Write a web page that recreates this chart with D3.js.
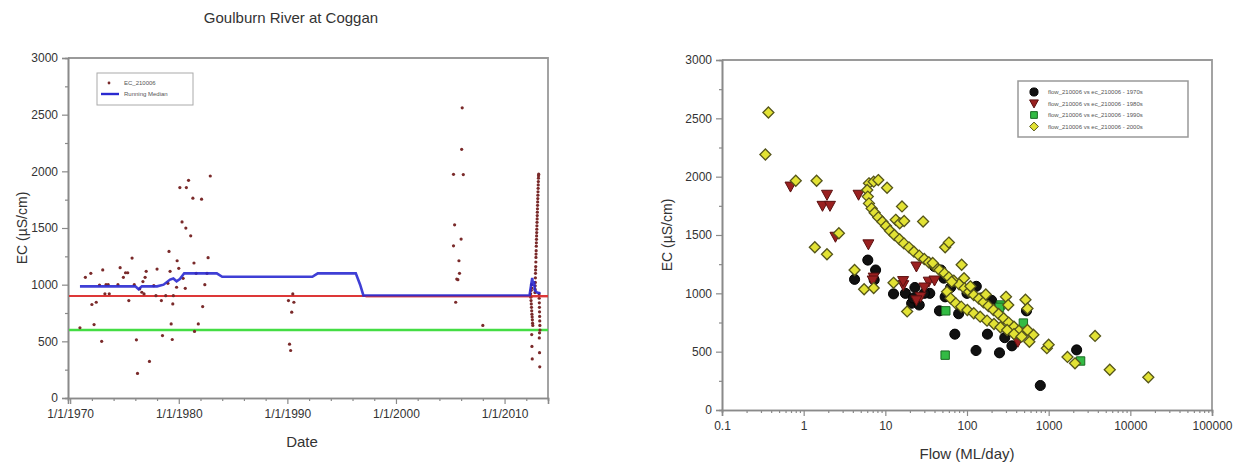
<!DOCTYPE html>
<html><head><meta charset="utf-8">
<script src="https://cdn.jsdelivr.net/npm/d3@7"></script>
<style>body{margin:0;background:#fff;} svg{display:block;font-family:"Liberation Sans",Arial,sans-serif;}</style>
</head><body><svg id="c" width="1243" height="465"></svg>
<script>
// ---------- Left chart data ----------
const chartTitle = "Goulburn River at Coggan";
const leftYTicks = [0, 500, 1000, 1500, 2000, 2500, 3000];
const leftXTicks = [1970, 1980, 1990, 2000, 2010];
const ecDates = [1970.9,1971.4,1971.9,1972.0,1972.2,1972.4,1972.7,1972.9,1973.0,1973.3,1973.5,1973.2,1973.6,1974.4,1974.6,1974.9,1975.1,1975.3,1975.4,1975.7,1975.9,1976.1,1976.2,1976.4,1976.6,1976.7,1976.9,1977.0,1976.8,1977.3,1977.7,1977.9,1978.0,1978.4,1978.5,1978.8,1979.1,1979.2,1979.3,1979.4,1979.45,1979.0,1979.5,1979.8,1979.85,1980.0,1980.1,1980.3,1980.4,1980.6,1980.65,1980.7,1980.9,1981.1,1981.3,1981.4,1981.45,1981.6,1981.8,1982.1,1982.2,1982.4,1982.6,1982.7,1982.9,
  1990.1,1990.2,1990.3,1990.4,1990.6,1990.5,
  2005.3,2006.1,2006.05,2006.2,2005.4,2005.3,2006.0,2005.8,2005.85,2005.6,2005.7,2005.5,2008.0];
const ecValues = [620,1065,1100,825,648,845,997,500,1130,1000,1000,920,920,1000,1150,1065,1105,1105,860,1235,1000,513,217,962,933,1027,1065,1118,918,323,991,903,1138,860,551,903,1293,1118,654,516,830,1012,903,977,1211,1144,1857,1554,1056,968,1499,1857,1921,1431,1763,1191,587,1100,654,1754,807,1000,1100,1238,1959,
  860,475,419,757,845,918,
  1974,2560,2194,1971,1528,1343,1402,1211,1100,1050,1044,845,640];
// 2012-2013 dense sampling
const ecRecentDates = [2012.80,2012.81,2012.82,2012.83,2012.84,2012.85,2012.86,2012.87,2012.88,2012.89,2012.90,2012.91,2012.92,2012.93,2012.94,2012.95,2012.96,2012.97,2012.98,2012.99,2013.00,2013.01,2013.02,2013.03,2013.04,2013.05,2013.06,2013.07,2013.08,2013.09,2013.10,2013.11,2013.12,2013.13,2013.14,
  2012.40,2012.42,2012.44,2012.46,2012.48,2012.50,2012.52,2012.54,2012.56,2012.58,2012.60,2012.50,2012.52,2012.55,2012.45,2012.48,2012.50,
  2013.18,2013.19,2013.20,2013.21,2013.22,2013.23,2013.24,2013.25,2013.26,2013.22,2013.20,2013.22,2013.24];
const ecRecentValues = [930,960,990,1020,1060,1100,1130,1160,1200,1240,1270,1300,1340,1370,1400,1430,1460,1490,1520,1550,1580,1610,1640,1670,1700,1730,1760,1790,1820,1850,1880,1910,1940,1960,1975,
  920,890,860,830,800,770,740,715,690,660,640,560,455,345,950,1000,970,
  920,880,840,800,760,720,680,640,600,575,530,400,275];
const medianDates = [1970.9,1976.0,1976.3,1976.6,1978.0,1978.6,1979.2,1979.5,1979.8,1980.1,1980.5,1983.5,1984.0,1992.3,1992.8,1996.3,1996.7,1997.0,2012.3,2012.45,2012.55,2012.62,2012.7,2012.8,2013.0,2013.3];
const medianValues = [985,985,960,985,985,1000,1045,1055,1030,1050,1100,1100,1070,1070,1100,1100,1000,905,905,1000,1060,990,1030,950,930,925];
const refLineRed = 900;
const refLineGreen = 600;
const leftLegend = ["EC_210006", "Running Median"];

// ---------- Right chart data ----------
const rightXTicks = [0.1, 1, 10, 100, 1000, 10000, 100000];
const rightYTicks = [0, 500, 1000, 1500, 2000, 2500, 3000];
const rightLegend = ["flow_210006 vs ec_210006 - 1970s","flow_210006 vs ec_210006 - 1980s","flow_210006 vs ec_210006 - 1990s","flow_210006 vs ec_210006 - 2000s"];
const flow1970s = [6.1,7.6,4.2,7.3,12.6,17.6,23,21,26,35,46,52,54,63,79,71,129,178,250,290,355,2200,790,115,130,48,535,150,200,100,40,22,30];
const ec1970s   = [1285,1200,1120,1115,995,1000,1050,915,900,1000,850,1130,970,1050,825,650,510,650,490,620,550,515,210,1045,1060,1200,850,960,940,1000,1230,960,1000];
const flow1980s = [0.69,1.93,1.7,2.1,2.45,4.7,6.2,7.2,7,16.6,16.5,24,27,34,40,420,24,30];
const ec1980s   = [1915,1845,1750,1750,1485,1845,1420,1135,1110,1070,1105,1230,970,1100,1110,585,940,1050];
const flow1990s = [54,55,260,490,2460,250];
const ec1990s   = [470,850,900,745,420,880];
const flow2000s = [0.37,0.34,0.8,1.44,1.37,1.93,2.7,4.2,5.5,7.2,10.5,16,13.4,29,54,60,86,92,12.6,18.5,300,320,520,550,650,580,950,1000,1700,2100,3700,5600,16600,420,
  6.3,7.2,8.2,6.0,6.1,6.3,6.8,7.4,8.2,9.2,10.2,11.4,12.9,14.9,16.9,19.5,22.4,26,30,34,40,46,53,60,69,80,93,106,121,140,159,183,211,244,281,324,376,433,
  57,63,73,85,101,121,145,176,214,257,310,376,467,550,15,17,38,65,110,170];
const ec2000s   = [2550,2190,1965,1965,1395,1335,1515,1200,1035,1045,1905,1745,1630,1615,1395,1435,1245,1130,1090,845,970,900,945,870,645,585,530,560,455,400,635,345,280,655,
  1943,1957,1971,1886,1829,1771,1728,1691,1651,1614,1577,1537,1500,1463,1428,1394,1357,1323,1294,1266,1234,1200,1171,1137,1108,1077,1043,1014,986,954,923,891,857,823,786,749,714,680,
  1014,957,914,886,857,829,800,766,737,709,686,651,629,686,1600,1620,1260,1100,1060,990];

const svg = d3.select("#c");
const axisColor = "#8a8a8a", textColor = "#333";

function styleAxis(g){
  g.selectAll(".domain").attr("stroke", axisColor).attr("stroke-width", 1.6);
  g.selectAll(".tick line").attr("stroke", axisColor).attr("stroke-width", 1.2);
  g.selectAll(".tick text").attr("fill", textColor).attr("font-size", 12).attr("font-family","Liberation Sans, Arial, sans-serif");
}

// ================= LEFT =================
const L = {x0: 68, x1: 548, y0: 58, y1: 398};
const lx = d3.scaleLinear().domain([1969.8, 2014.0]).range([L.x0, L.x1]);
const ly = d3.scaleLinear().domain([0, 3000]).range([L.y1, L.y0]);

svg.append("text").attr("x", 291).attr("y", 23).attr("text-anchor","middle")
  .attr("font-size", 15).attr("fill", textColor).text(chartTitle);

svg.append("path").attr("d", `M${L.x0},${L.y0}H${L.x1}V${L.y1}`).attr("fill","none").attr("stroke","#9a9a9a").attr("stroke-width",1.8);

svg.append("g").attr("transform",`translate(${L.x0},0)`)
  .call(d3.axisLeft(ly).tickValues(d3.range(250,3000,500)).tickSize(3).tickFormat("")).call(styleAxis);
svg.append("g").attr("transform",`translate(0,${L.y1})`)
  .call(d3.axisBottom(lx).tickValues(d3.range(1972,2014,2).filter(d=>d%10!==0)).tickSize(3).tickFormat("")).call(styleAxis);
svg.append("g").attr("transform",`translate(${L.x0},0)`)
  .call(d3.axisLeft(ly).tickValues(leftYTicks).tickSize(6).tickPadding(4).tickFormat(d3.format("d"))).call(styleAxis);
svg.append("g").attr("transform",`translate(0,${L.y1})`)
  .call(d3.axisBottom(lx).tickValues(leftXTicks).tickSize(6).tickPadding(5).tickFormat(d=>"1/1/"+d)).call(styleAxis);

svg.append("text").attr("transform",`translate(27,${(L.y0+L.y1)/2}) rotate(-90)`).attr("text-anchor","middle")
  .attr("font-size", 14).attr("fill", textColor).text("EC (\u00b5S/cm)");
svg.append("text").attr("x", (L.x0+L.x1)/2 - 6).attr("y", 447).attr("text-anchor","middle")
  .attr("font-size", 15).attr("fill", textColor).text("Date");

svg.append("line").attr("x1",L.x0+1).attr("x2",L.x1).attr("y1",ly(refLineGreen)).attr("y2",ly(refLineGreen))
  .attr("stroke","#44dd44").attr("stroke-width",2.4);
svg.append("line").attr("x1",L.x0+1).attr("x2",L.x1).attr("y1",ly(refLineRed)).attr("y2",ly(refLineRed))
  .attr("stroke","#dd3838").attr("stroke-width",2.2);

const ecAll = ecDates.map((d,i)=>({d, v: ecValues[i]})).concat(ecRecentDates.map((d,i)=>({d, v: ecRecentValues[i]})));
svg.append("g").selectAll("circle").data(ecAll).join("circle")
  .attr("cx", p=>lx(p.d)).attr("cy", p=>ly(p.v)).attr("r", 1.6)
  .attr("fill","#7a2a2a");

const med = medianDates.map((d,i)=>({d, v: medianValues[i]}));
svg.append("path").datum(med).attr("fill","none").attr("stroke","#2a2ad0").attr("stroke-width",2.6).attr("opacity",0.9)
  .attr("d", d3.line().x(p=>lx(p.d)).y(p=>ly(p.v)));
svg.append("line").attr("x1",lx(1997.2)).attr("x2",L.x1).attr("y1",ly(refLineRed)+1).attr("y2",ly(refLineRed)+1)
  .attr("stroke","#dd3838").attr("stroke-width",1).attr("opacity",0.8);

const lg = svg.append("g").attr("transform","translate(97,73)");
lg.append("rect").attr("width",96).attr("height",32).attr("fill","#fff").attr("stroke","#aaa").attr("stroke-width",1);
lg.append("circle").attr("cx",12).attr("cy",10).attr("r",1.4).attr("fill","#7a2a2a");
lg.append("line").attr("x1",4).attr("x2",22).attr("y1",21).attr("y2",21).attr("stroke","#2a2ad0").attr("stroke-width",2.4);
lg.selectAll("text").data(leftLegend).join("text").attr("x",27).attr("y",(d,i)=>12+i*11)
  .attr("font-size",6).attr("fill","#555").text(d=>d);

// ================= RIGHT =================
const R = {x0: 722, x1: 1212, y0: 60, y1: 410};
const rx = d3.scaleLog().domain([0.1, 100000]).range([R.x0, R.x1]);
const ry = d3.scaleLinear().domain([0, 3000]).range([R.y1, R.y0]);

svg.append("path").attr("d", `M${R.x0},${R.y0}H${R.x1}V${R.y1}`).attr("fill","none").attr("stroke","#9a9a9a").attr("stroke-width",1.8);

const minorLog = [];
for (let e = -1; e < 5; e++) for (let m = 2; m <= 9; m++) minorLog.push(m * Math.pow(10, e));
svg.append("g").attr("transform",`translate(0,${R.y1})`)
  .call(d3.axisBottom(rx).tickValues(minorLog).tickSize(3).tickFormat("")).call(styleAxis);
svg.append("g").attr("transform",`translate(${R.x0},0)`)
  .call(d3.axisLeft(ry).tickValues(d3.range(250,3000,500)).tickSize(3).tickFormat("")).call(styleAxis);
svg.append("g").attr("transform",`translate(${R.x0},0)`)
  .call(d3.axisLeft(ry).tickValues(rightYTicks).tickSize(6).tickPadding(4).tickFormat(d3.format("d"))).call(styleAxis);
svg.append("g").attr("transform",`translate(0,${R.y1})`)
  .call(d3.axisBottom(rx).tickValues(rightXTicks).tickSize(6).tickPadding(5).tickFormat(d=>String(d))).call(styleAxis);

svg.append("text").attr("transform",`translate(672,${(R.y0+R.y1)/2}) rotate(-90)`).attr("text-anchor","middle")
  .attr("font-size", 14).attr("fill", textColor).text("EC (\u00b5S/cm)");
svg.append("text").attr("x", (R.x0+R.x1)/2).attr("y", 459).attr("text-anchor","middle")
  .attr("font-size", 15).attr("fill", textColor).text("Flow (ML/day)");

function symPath(key, s){
  if (key === "c") return d3.symbol().type(d3.symbolCircle).size(s*s*0.8)();
  if (key === "t") return `M${-s*0.55},${-s*0.45}L${s*0.55},${-s*0.45}L0,${s*0.55}Z`;
  if (key === "s") return `M${-s*0.42},${-s*0.42}H${s*0.42}V${s*0.42}H${-s*0.42}Z`;
  return `M0,${-s*0.55}L${s*0.55},0L0,${s*0.55}L${-s*0.55},0Z`;
}
const styles = [
  {key:"c", fill:"#111", stroke:"#000", fx: flow1970s, fy: ec1970s},
  {key:"t", fill:"#9a2020", stroke:"#5a1010", fx: flow1980s, fy: ec1980s},
  {key:"s", fill:"#33bb44", stroke:"#1a6a22", fx: flow1990s, fy: ec1990s},
  {key:"d", fill:"#e2e234", stroke:"#55551a", fx: flow2000s, fy: ec2000s}
];
const plotG = svg.append("g");
styles.forEach(s=>{
  const pts = s.fx.map((f,i)=>({f, v: s.fy[i]}));
  plotG.append("g").selectAll("path").data(pts).join("path")
    .attr("d", symPath(s.key, 10))
    .attr("transform", p=>`translate(${rx(p.f)},${ry(p.v)})`)
    .attr("fill", s.fill).attr("stroke", s.stroke).attr("stroke-width", s.key==="d"?1.3:1);
});

const rg = svg.append("g").attr("transform","translate(1018,81)");
rg.append("rect").attr("width",170).attr("height",56).attr("fill","#fff").attr("stroke","#999").attr("stroke-width",1.5);
styles.forEach((s,i)=>{
  rg.append("path").attr("d", symPath(s.key, 8))
    .attr("transform",`translate(16,${11+i*11.5})`)
    .attr("fill", s.fill).attr("stroke", s.stroke).attr("stroke-width",1);
  rg.append("text").attr("x",30).attr("y",13+i*11.5).attr("font-size",6).attr("fill","#555").text(rightLegend[i]);
});
</script>
</body></html>
